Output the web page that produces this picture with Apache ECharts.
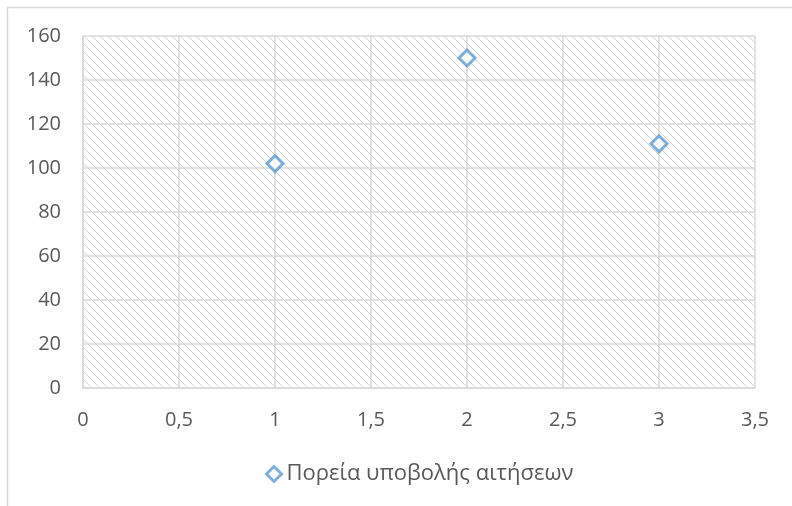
<!DOCTYPE html>
<html><head><meta charset="utf-8">
<script src="https://cdn.jsdelivr.net/npm/echarts@6/dist/echarts.min.js"></script>
<style>html,body{margin:0;padding:0;background:#fff}#c{width:792px;height:506px}</style>
</head><body><div id="c"></div>
<script>
const seriesName = 'Πορεία υποβολής αιτήσεων';
const xValues = [1, 2, 3];
const yValues = [102, 150, 111];

const pc = document.createElement('canvas');
pc.width = 8; pc.height = 8;
const g = pc.getContext('2d');
g.fillStyle = '#ffffff'; g.fillRect(0,0,8,8);
g.strokeStyle = '#d6d6d6'; g.lineWidth = 1;
g.beginPath();
g.moveTo(-1,-1); g.lineTo(9,9);
g.moveTo(-1,7); g.lineTo(1,9);
g.moveTo(7,-1); g.lineTo(9,1);
g.stroke();

const chart = echarts.init(document.getElementById('c'));
const font = 'Open Sans';
chart.setOption({
  animation: false,
  graphic: [{type:'rect', shape:{x:7.5,y:7.5,width:800,height:520}, style:{fill:'none', stroke:'#d9d9d9', lineWidth:1.5}, z:-10}],
  grid: {left:83, right:37, top:36, bottom:118, show:true, backgroundColor:{image: pc, repeat:'repeat'}, borderWidth:0},
  xAxis: {type:'value', min:0, max:3.5, interval:0.5,
    axisLine:{show:true, lineStyle:{color:'#d9d9d9', width:1.5}}, axisTick:{show:false},
    splitLine:{show:true, lineStyle:{color:'#d9d9d9', width:1.5}},
    axisLabel:{color:'#595959', fontFamily:font, fontSize:20, margin:22, formatter: v => String(v).replace('.', ',')}},
  yAxis: {type:'value', min:0, max:160, interval:20,
    axisLine:{show:true, lineStyle:{color:'#d9d9d9', width:1.5}}, axisTick:{show:false},
    splitLine:{show:true, lineStyle:{color:'#d9d9d9', width:1.5}},
    axisLabel:{color:'#595959', fontFamily:font, fontSize:20, margin:22}},
  legend: {bottom:16, left:260, icon:'diamond', itemWidth:15, itemHeight:15, itemGap:6,
    itemStyle:{color:'#ffffff', borderColor:'#5b9bd5', borderWidth:3},
    textStyle:{color:'#595959', fontFamily:font, fontSize:22}, data:[seriesName]},
  series: [{name:seriesName, type:'scatter', symbol:'diamond', symbolSize:16,
    itemStyle:{color:'#ffffff', borderColor:'#5b9bd5', borderWidth:3},
    data: xValues.map((x,i)=>[x, yValues[i]])}]
});
</script></body></html>
